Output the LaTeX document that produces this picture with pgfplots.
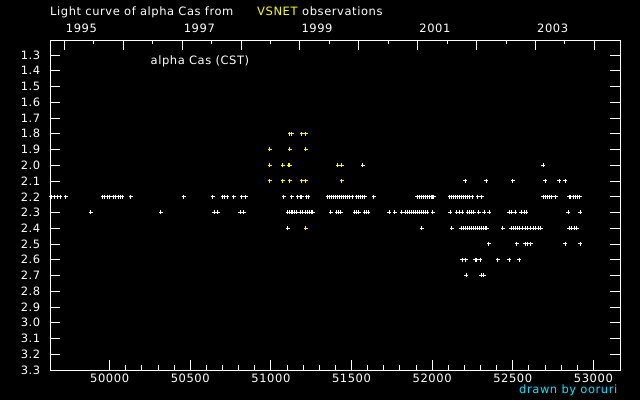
\documentclass[border=0pt]{standalone}
\usepackage{fontspec}
\setmainfont{DejaVu Sans}[LetterSpace=5]
\usepackage{pgfplots}
\pgfplotsset{compat=1.18}
\definecolor{vsyellow}{RGB}{255,255,0}
\definecolor{drawncyan}{RGB}{0,230,255}

\begin{document}
\begin{tikzpicture}[x=1pt,y=1pt]
\fill[black] (0,0) rectangle (640,400);
\useasboundingbox (0,0) rectangle (640,400);
\pgfplotsset{
  lcbase/.style={
    at={(50pt,30pt)}, anchor=south west,
    scale only axis, width=570pt, height=330pt,
    xmin=49630, xmax=53165, ymin=1.205, ymax=3.3, y dir=reverse,
    axis line style={white, line width=0.9pt},
    tick style={white, line width=0.9pt},
    major tick length=10pt, minor tick length=5pt, tick align=inside,
    tick label style={white, inner sep=0pt, font=\fontsize{11.5}{13}\selectfont},
    /pgf/number format/assume math mode=true,
    scaled x ticks=false,
  },
  obs/.style={only marks, mark=+, mark size=2pt, mark options={line width=1pt}},
}

% MJD (bottom) and magnitude axes, with the data
\begin{axis}[lcbase,
    xtick={50000,50500,51000,51500,52000,52500,53000}, minor x tick num=4,
    xtick pos=lower,
    ytick={1.3,1.4,1.5,1.6,1.7,1.8,1.9,2.0,2.1,2.2,2.3,2.4,2.5,2.6,2.7,2.8,2.9,3.0,3.1,3.2,3.3},
    ytick pos=both, yticklabel pos=left,
    xticklabel style={anchor=base, yshift=-12pt, /pgf/number format/.cd, fixed, set thousands separator={}},
    yticklabel style={anchor=east, xshift=-9.5pt, /pgf/number format/.cd, fixed, fixed zerofill, precision=1},
]
% white observations
\addplot[obs, white] coordinates {
 (51570,2.0) (52688,2.0)
 (52204,2.1) (52334,2.1) (52501,2.1) (52700,2.1) (52787,2.1) (52824,2.1)
 (49638,2.2) (49657,2.2) (49675,2.2) (49694,2.2) (49728,2.2) (49957,2.2) (49969,2.2) (49986,2.2)
 (50000,2.2) (50025,2.2) (50037,2.2) (50052,2.2) (50065,2.2) (50077,2.2) (50130,2.2) (50459,2.2)
 (50639,2.2) (50700,2.2) (50714,2.2) (50729,2.2) (50770,2.2) (50819,2.2) (50844,2.2) (51080,2.2)
 (51130,2.2) (51167,2.2) (51181,2.2) (51192,2.2) (51223,2.2) (51231,2.2) (51353,2.2) (51364,2.2)
 (51376,2.2) (51389,2.2) (51401,2.2) (51413,2.2) (51426,2.2) (51438,2.2) (51451,2.2) (51463,2.2)
 (51475,2.2) (51488,2.2) (51503,2.2) (51533,2.2) (51546,2.2) (51558,2.2) (51570,2.2) (51583,2.2)
 (51639,2.2) (51908,2.2) (51919,2.2) (51932,2.2) (51944,2.2) (51956,2.2) (51969,2.2) (51981,2.2)
 (51994,2.2) (52003,2.2) (52011,2.2) (52109,2.2) (52121,2.2) (52133,2.2) (52146,2.2) (52158,2.2)
 (52171,2.2) (52183,2.2) (52195,2.2) (52208,2.2) (52220,2.2) (52233,2.2) (52249,2.2) (52284,2.2)
 (52309,2.2) (52690,2.2) (52704,2.2) (52717,2.2) (52729,2.2) (52742,2.2) (52766,2.2) (52849,2.2)
 (52858,2.2) (52878,2.2) (52891,2.2) (52903,2.2) (52915,2.2)
 (49882,2.3) (50317,2.3) (50650,2.3) (50670,2.3) (50811,2.3) (50832,2.3) (51105,2.3) (51115,2.3)
 (51126,2.3) (51136,2.3) (51146,2.3) (51161,2.3) (51182,2.3) (51194,2.3) (51215,2.3) (51227,2.3)
 (51240,2.3) (51250,2.3) (51260,2.3) (51372,2.3) (51409,2.3) (51421,2.3) (51434,2.3) (51521,2.3)
 (51533,2.3) (51546,2.3) (51583,2.3) (51591,2.3) (51603,2.3) (51735,2.3) (51769,2.3) (51812,2.3)
 (51837,2.3) (51850,2.3) (51862,2.3) (51875,2.3) (51887,2.3) (51899,2.3) (51910,2.3) (51922,2.3)
 (51935,2.3) (51947,2.3) (51960,2.3) (51969,2.3) (52005,2.3) (52113,2.3) (52154,2.3) (52169,2.3)
 (52187,2.3) (52220,2.3) (52233,2.3) (52245,2.3) (52258,2.3) (52289,2.3) (52323,2.3) (52354,2.3)
 (52477,2.3) (52495,2.3) (52514,2.3) (52554,2.3) (52570,2.3) (52585,2.3) (52843,2.3) (52917,2.3)
 (51105,2.4) (51937,2.4) (52123,2.4) (52181,2.4) (52194,2.4) (52206,2.4) (52218,2.4) (52231,2.4)
 (52243,2.4) (52256,2.4) (52268,2.4) (52280,2.4) (52293,2.4) (52305,2.4) (52318,2.4) (52330,2.4)
 (52338,2.4) (52439,2.4) (52491,2.4) (52504,2.4) (52516,2.4) (52529,2.4) (52543,2.4) (52560,2.4)
 (52576,2.4) (52593,2.4) (52609,2.4) (52626,2.4) (52642,2.4) (52657,2.4) (52673,2.4) (52849,2.4)
 (52864,2.4) (52880,2.4) (52897,2.4)
 (52352,2.5) (52526,2.5) (52576,2.5) (52594,2.5) (52613,2.5) (52824,2.5) (52917,2.5)
 (52187,2.6) (52208,2.6) (52266,2.6) (52278,2.6) (52299,2.6) (52408,2.6) (52477,2.6) (52539,2.6)
 (52210,2.7) (52305,2.7) (52321,2.7)
};
% yellow observations
\addplot[obs, color=vsyellow, mark options={vsyellow, line width=1pt}] coordinates {
 (51117,1.8) (51130,1.8) (51192,1.8) (51217,1.8)
 (50993,1.9) (51117,1.9) (51217,1.9)
 (50993,2.0) (51074,2.0) (51111,2.0) (51117,2.0) (51415,2.0) (51440,2.0)
 (50993,2.1) (51074,2.1) (51117,2.1) (51192,2.1) (51217,2.1) (51440,2.1)
 (51217,2.4)
};
\end{axis}

% calendar years along the top
\begin{axis}[lcbase,
    xtick pos=upper, xticklabel pos=upper, ytick=\empty,
    xtick={49718.5,50083.5,50449.5,50814.5,51179.5,51544.5,51910.5,52275.5,52640.5,53005.5},
    xticklabels={1995,,1997,,1999,,2001,,2003,},
    minor xtick={49901,50266,50632,50997,51362,51727,52093,52458,52823},
    minor tick length=4pt,
    xticklabel style={anchor=base west, xshift=1.5pt, yshift=8pt},
]
\end{axis}

\node[anchor=base west, inner sep=0pt, white, font=\fontsize{11.5}{13}\selectfont] at (50,384) {Light curve of alpha Cas from};
\node[anchor=base west, inner sep=0pt, vsyellow, font=\fontsize{11.5}{13}\selectfont] at (257,384) {VSNET};
\node[anchor=base west, inner sep=0pt, white, font=\fontsize{11.5}{13}\selectfont] at (302,384) {observations};
\node[anchor=base west, inner sep=0pt, white, font=\fontsize{11.5}{13}\selectfont] at (150.5,335) {alpha Cas (CST)};
\node[anchor=base east, inner sep=0pt, drawncyan, font=\fontsize{11.5}{13}\selectfont] at (617.5,6.5) {drawn by ooruri};
\end{tikzpicture}
\end{document}
